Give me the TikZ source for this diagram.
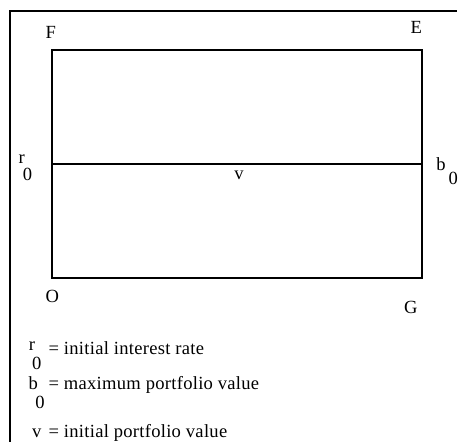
\documentclass[tikz,border=0pt]{standalone}
\usepackage{fontspec}
\setmainfont{Liberation Serif}
\usepackage{tikz}
\usetikzlibrary{positioning}

\tikzset{
  lbl/.style={inner sep=0pt, anchor=base},
  legend/.style={inner sep=0pt, anchor=base west, font=\fontsize{13.2}{16}\selectfont\addfontfeatures{LetterSpace=1.5}}
}

\begin{document}
\begin{tikzpicture}[font=\fontsize{13.2}{16}\selectfont, line width=0.8pt]
  \useasboundingbox (0,0) rectangle (11.475,11.05);
  % open frame
  \draw[line width=1pt] (0.25,0) -- (0.25,10.77) -- (11.43,10.77);
  % region
  \coordinate (O) at (1.3,4.1);
  \coordinate (G) at (10.55,4.1);
  \coordinate (E) at (10.55,9.8);
  \coordinate (F) at (1.3,9.8);
  \coordinate (rz) at (1.3,6.95);
  \coordinate (bz) at (10.55,6.95);
  \draw (O) rectangle (E);
  \draw (rz) -- (bz);
  \node[lbl] (lF) at (1.27,10.08) {F};
  \node[lbl] (lE) at (10.41,10.2) {E};
  \node[lbl] (lO) at (1.31,3.475) {O};
  \node[lbl] (lG) at (10.27,3.2) {G};
  \node[lbl] (lr) at (0.54,6.95) {r};
  \node[lbl] (lrs) at (0.69,6.525) {0};
  \node[lbl] (lb) at (11.025,6.775) {b};
  \node[lbl] (lbs) at (11.33,6.425) {0};
  \node[lbl] (lv) at (5.975,6.55) {v};
  % legend
  \node[lbl] (kr) at (0.8,2.275) {r};
  \node[lbl] (krs) at (0.92,1.8) {0};
  \node[legend] (tr) at (1.2,2.175) {= initial interest rate};
  \node[lbl] (kb) at (0.83,1.3) {b};
  \node[lbl] (kbs) at (1.0,0.825) {0};
  \node[legend] (tb) at (1.2,1.3) {= maximum portfolio value};
  \node[lbl] (kv) at (0.92,0.1) {v};
  \node[legend] (tv) at (1.2,0.1) {= initial portfolio value};
\end{tikzpicture}
\end{document}
